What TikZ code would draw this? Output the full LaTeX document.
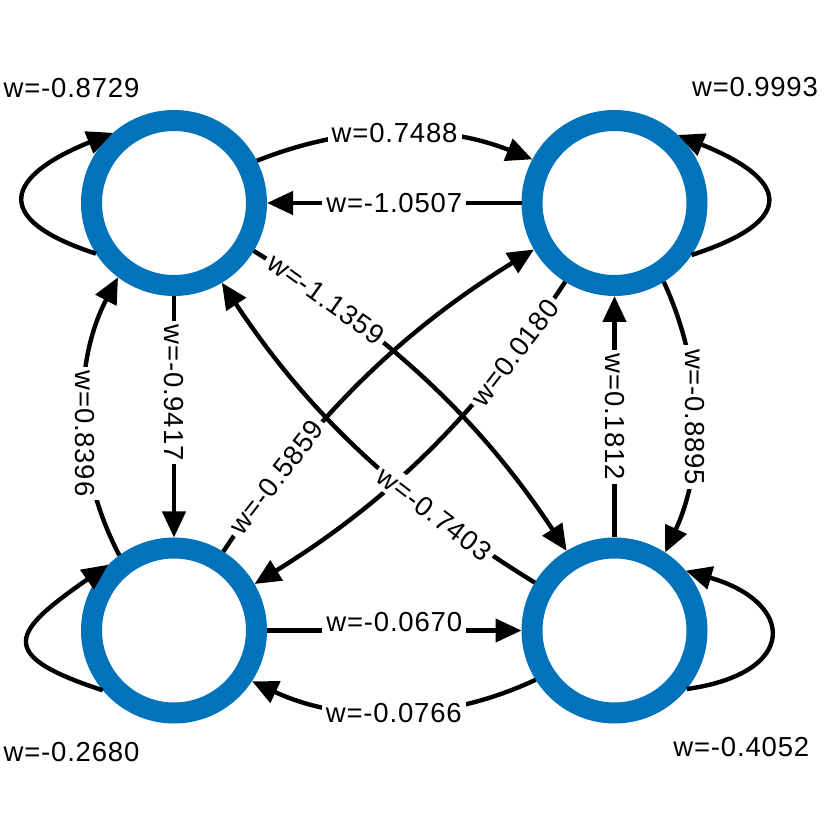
\documentclass[tikz,border=0pt]{standalone}
\usepackage{fontspec}
\usetikzlibrary{arrows.meta}
\newfontfamily\wfont[LetterSpace=3]{Liberation Sans}
\definecolor{nblue}{RGB}{0,115,187}
\begin{document}
\begin{tikzpicture}[x=1pt,y=1pt,
  neuron/.style={circle,draw=nblue,line width=21pt,minimum size=165pt,inner sep=0pt,fill=white},
  conn/.style={line width=4.4pt,-{Triangle[length=26pt,width=23pt]}},
  wl/.style={font=\wfont\fontsize{27.5pt}{31pt}\selectfont,fill=white,inner sep=4pt},
  lbl/.style={font=\wfont\fontsize{27.5pt}{31pt}\selectfont,inner sep=0pt}]
\useasboundingbox (0,0) rectangle (830,830);
% neurons
\node[neuron] (tl) at (174,627) {};
\node[neuron] (tr) at (614.5,627) {};
\node[neuron] (bl) at (174,199.5) {};
\node[neuron] (br) at (614.5,199.5) {};
% self loops
\draw[conn] (tl.213) to[out=162,in=202,distance=114pt] (tl.131);
\draw[conn] (tr.326.5) to[out=18,in=338,distance=116pt] (tr.47);
\draw[conn] (bl.220.6) to[out=162,in=215,distance=116pt] (bl.135.8);
\draw[conn] (br.321) to[out=8,in=344,distance=114pt] (br.40.6);
\node[lbl] (ltl) at (71.5,742) {w=-0.8729};
\node[lbl] (ltr) at (755,742.5) {w=0.9993};
\node[lbl] (lbl) at (71.5,78) {w=-0.2680};
\node[lbl] (lbr) at (741.3,82.5) {w=-0.4052};
% horizontal
\draw[conn] (tl.27.4) to[out=21.7,in=158.3,distance=98.5pt] node[wl]{w=0.7488} (tr.152.6);
\draw[conn] (tr) -- node[wl]{w=-1.0507} (tl);
\draw[conn] (bl) -- node[wl,yshift=8pt]{w=-0.0670} (br);
\draw[conn] (br.212.4) to[out=205.2,in=334.8,distance=100.7pt] node[wl]{w=-0.0766} (bl.327.6);
% vertical
\draw[conn] (tl) -- node[wl,pos=0.4,rotate=-90]{w=-0.9417} (bl);
\draw[conn] (bl.126.8) to[out=117.8,in=242.2,distance=98.1pt] node[wl,pos=0.44,rotate=-90]{w=0.8396} (tl.233.2);
\draw[conn] (br) -- node[wl,rotate=-90]{w=0.1812} (tr);
\draw[conn] (tr.302.3) to[out=294.8,in=65.2,distance=95.8pt] node[wl,rotate=-90]{w=-0.8895} (br.57.7);
% diagonals
\draw[conn] (tl.329.9) to[out=328.3,in=123.5,distance=158.5pt] node[wl,sloped,pos=0.19]{w=-1.1359} (br.121.8);
\draw[conn] (tr.238.2) to[out=236.5,in=31.7,distance=158.5pt] node[wl,sloped,pos=0.19]{w=0.0180} (bl.30.1);
\draw[conn] (bl.58.2) to[out=56.5,in=211.7,distance=158.5pt] node[wl,sloped,pos=0.2]{w=-0.5859} (tr.210.1);
\draw[conn] (br.149.9) to[out=148.3,in=303.5,distance=158.5pt] node[wl,sloped,pos=0.27]{w=-0.7403} (tl.301.8);
\end{tikzpicture}
\end{document}
